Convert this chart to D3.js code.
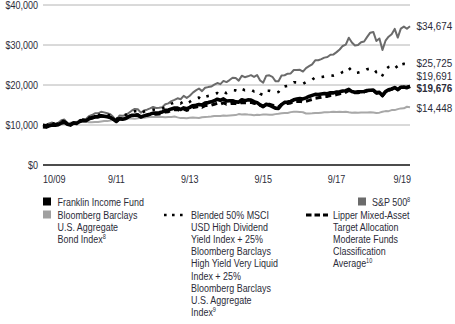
<!DOCTYPE html>
<html>
<head>
<meta charset="utf-8">
<script src="https://cdn.jsdelivr.net/npm/d3@7"></script>
<style>
  html, body { margin: 0; padding: 0; background: #fff; }
  svg { display: block; }
  text { font-family: "Liberation Sans", Arial, sans-serif; fill: #2b2b38; }
</style>
</head>
<body>
<div id="chart"></div>
<script>
// Growth of $10,000, month-end values from 10/09 through 9/19 (121 points).

const tickMonths = [0, 24, 48, 72, 96, 120];
const tickLabels = ["10/09", "9/11", "9/13", "9/15", "9/17", "9/19"];
const yTicks = [0, 10000, 20000, 30000, 40000];

const franklin = [
  9575, 9480, 9790, 10020, 9920, 10090, 10510, 10700, 10180, 9980, 10480, 10430,
  10890, 11150, 11050, 11520, 11800, 12050, 12020, 12330, 12200, 12060, 11900, 11420,
  10880, 11560, 11420, 11620, 12090, 12400, 12430, 12460, 12010, 12280, 12520, 12720,
  12980, 12960, 13050, 13240, 13660, 13750, 14020, 14250, 14220, 13880, 14280, 14060,
  14420, 14830, 14930, 15110, 14990, 15480, 15600, 15790, 16050, 16450, 16180, 16520,
  16020, 16080, 16050, 15780, 15720, 16300, 16070, 16280, 16240, 15830, 15600, 15020,
  14580, 15190, 14960, 14580, 14200, 14160, 15080, 15650, 15730, 15900, 16300, 16480,
  16600, 16520, 16780, 17130, 17400, 17650, 17600, 17750, 17880, 17800, 18050, 18030,
  18230, 18300, 18480, 18560, 18900, 18350, 18200, 18330, 18300, 18380, 18620, 18680,
  18720, 18100, 18150, 17380, 18350, 18800, 19000, 19350, 18850, 19450, 19520, 19320,
  19676
];

const sp500 = [
  10000, 9814, 10403, 10604, 10222, 10539, 11174, 11351, 10444, 9898, 10592, 10114,
  11016, 11435, 11436, 12200, 12489, 12917, 12922, 13305, 13154, 12934, 12672, 11984,
  11141, 12359, 12332, 12457, 13015, 13577, 14024, 13936, 13098, 13637, 13827, 14138,
  14503, 14235, 14318, 14448, 15196, 15403, 15981, 16289, 16670, 16447, 17284, 16783,
  17310, 18106, 18658, 19130, 18468, 19312, 19474, 19618, 20079, 20495, 20212, 21020,
  20726, 21232, 21803, 21748, 21096, 22309, 21956, 22167, 22453, 22017, 22480, 21124,
  20602, 22341, 22408, 22054, 20960, 20933, 22352, 22439, 22843, 22902, 23747, 23781,
  23786, 23353, 24217, 24697, 25166, 26165, 26196, 26466, 26839, 27006, 27562, 27647,
  28217, 28874, 29760, 30091, 31815, 30641, 29863, 29976, 30699, 30889, 32038, 33083,
  33271, 30996, 31628, 28772, 31077, 32074, 32697, 34021, 31861, 34107, 34598, 34051,
  34674
];

const aggBond = [
  10000, 10050, 10180, 10020, 10170, 10210, 10200, 10310, 10400, 10560, 10670, 10810,
  10820, 10860, 10800, 10680, 10690, 10720, 10730, 10860, 11000, 10970, 11140, 11310,
  11390, 11400, 11390, 11520, 11620, 11610, 11550, 11680, 11790, 11800, 11960, 11970,
  11990, 12010, 12030, 12010, 11930, 11990, 12000, 12120, 11910, 11720, 11740, 11680,
  11790, 11880, 11840, 11770, 11940, 12010, 12050, 12140, 12270, 12280, 12240, 12380,
  12300, 12380, 12460, 12470, 12730, 12610, 12670, 12620, 12590, 12460, 12550, 12530,
  12620, 12620, 12590, 12550, 12720, 12820, 12940, 12980, 12990, 13220, 13310, 13290,
  13280, 13180, 12870, 12890, 12910, 12990, 12990, 13090, 13190, 13180, 13230, 13340,
  13280, 13290, 13270, 13330, 13180, 13050, 13140, 13040, 13130, 13130, 13130, 13210,
  13120, 13020, 13090, 13330, 13470, 13460, 13720, 13730, 13970, 14150, 14180, 14560,
  14448
];

const blended = [
  10000, 9850, 10250, 10450, 10250, 10450, 10900, 11050, 10450, 10150, 10750, 10550,
  11100, 11400, 11350, 11800, 12050, 12400, 12450, 12750, 12700, 12550, 12350, 12000,
  11400, 12300, 12350, 12550, 12900, 13250, 13450, 13450, 12900, 13350, 13600, 13700,
  13850, 13800, 13900, 14050, 14650, 14850, 15350, 15650, 15650, 15400, 15900, 15400,
  15800, 16350, 16600, 16850, 16400, 17000, 17250, 17400, 17700, 18000, 17700, 18250,
  17950, 18350, 18700, 18650, 18350, 19000, 18700, 18850, 18850, 18400, 18700, 17800,
  17500, 18550, 18550, 18300, 18050, 18250, 19400, 19650, 19800, 20300, 20700, 20650,
  20550, 20300, 20750, 21100, 21300, 21900, 21850, 22000, 22100, 22150, 22400, 22350,
  22550, 22750, 23250, 23500, 24300, 23400, 23000, 23100, 23300, 23500, 23950, 24100,
  24150, 23200, 23600, 22400, 23900, 24500, 24700, 25100, 24100, 25100, 25300, 25200,
  25725
];

const lipper = [
  10000, 9870, 10230, 10380, 10150, 10330, 10700, 10850, 10350, 10080, 10550, 10350,
  10900, 11180, 11150, 11550, 11720, 11950, 11980, 12250, 12130, 11960, 11870, 11420,
  10900, 11620, 11550, 11620, 12080, 12400, 12560, 12560, 12030, 12300, 12450, 12620,
  12740, 12660, 12730, 12850, 13270, 13340, 13600, 13830, 13880, 13560, 13950, 13640,
  14000, 14380, 14520, 14680, 14440, 14850, 14880, 14950, 15200, 15420, 15230, 15550,
  15200, 15330, 15460, 15350, 15220, 15650, 15560, 15620, 15650, 15400, 15480, 14950,
  14700, 15250, 15200, 14980, 14550, 14500, 15150, 15300, 15400, 15500, 15850, 15900,
  15950, 15750, 15950, 16150, 16400, 16700, 16800, 16950, 17100, 17150, 17380, 17420,
  17600, 17800, 18050, 18200, 18650, 18250, 18050, 18070, 18250, 18280, 18550, 18700,
  18700, 17950, 18150, 17300, 18300, 18700, 18950, 19350, 18800, 19400, 19520, 19450,
  19691
];

// end-of-period value labels; a few are nudged so they don't collide
const endLabels = [
  { text: "$34,674", value: 34674, dy: 0, bold: false },
  { text: "$25,725", value: 25725, dy: 0.5, bold: false },
  { text: "$19,691", value: 19691, dy: -10.5, bold: false },
  { text: "$19,676", value: 19676, dy: 2, bold: true },
  { text: "$14,448", value: 14448, dy: 1, bold: false }
];

const W = 455, H = 324;
const plot = { left: 43, right: 410, top: 5, bottom: 165 };
const SQ = 0.86; // horizontal squeeze applied to all text

const svg = d3.select("#chart").append("svg")
  .attr("width", W).attr("height", H).attr("viewBox", `0 0 ${W} ${H}`);

const x = d3.scaleLinear().domain([0, 120]).range([plot.left, plot.right]);
const y = d3.scaleLinear().domain([0, 40000]).range([plot.bottom, plot.top]);

// narrow text: a group at (tx, ty) scaled horizontally
function label(parent, tx, ty) {
  return parent.append("g")
    .attr("transform", `translate(${tx},${ty}) scale(${SQ},1)`)
    .append("text");
}

// gridlines + y labels
svg.append("g")
  .selectAll("line")
  .data(yTicks.filter((d) => d > 0))
  .join("line")
  .attr("x1", plot.left).attr("x2", plot.right)
  .attr("y1", (d) => y(d)).attr("y2", (d) => y(d))
  .attr("stroke", "#b4b4b4").attr("stroke-width", 1);

svg.append("line")
  .attr("x1", plot.left).attr("x2", plot.right)
  .attr("y1", y(0)).attr("y2", y(0))
  .attr("stroke", "#111").attr("stroke-width", 1.4);

const yAxis = svg.append("g");
yTicks.forEach((d) => {
  label(yAxis, 38, y(d))
    .attr("dy", "0.35em")
    .attr("text-anchor", "end")
    .attr("font-size", 10.5)
    .text(d3.format("$,")(d));
});

const xAxis = svg.append("g");
tickMonths.forEach((d, i) => {
  label(xAxis, x(d) + (i === tickMonths.length - 1 ? 1 : 0), 183)
    .attr("text-anchor", i === 0 ? "start" : i === tickMonths.length - 1 ? "end" : "middle")
    .attr("font-size", 10.5)
    .text(tickLabels[i]);
});

const line = d3.line().x((d, i) => x(i)).y((d) => y(d));

const series = [
  { data: aggBond, stroke: "#a8a8a8", width: 2 },
  { data: sp500, stroke: "#6b6b6b", width: 2 },
  { data: blended, stroke: "#000", width: 2.6, dash: "2.6 7.4" },
  { data: lipper, stroke: "#000", width: 3, dash: "6 4" },
  { data: franklin, stroke: "#000", width: 3.6 }
];

svg.append("g")
  .selectAll("path")
  .data(series)
  .join("path")
  .attr("d", (d) => line(d.data))
  .attr("fill", "none")
  .attr("stroke", (d) => d.stroke)
  .attr("stroke-width", (d) => d.width)
  .attr("stroke-dasharray", (d) => d.dash || null)
  .attr("stroke-linejoin", "round");

const ends = svg.append("g");
endLabels.forEach((d) => {
  label(ends, 416.5, y(d.value) + d.dy)
    .attr("dy", "0.35em")
    .attr("font-size", 11.5)
    .attr("font-weight", d.bold ? "bold" : null)
    .text(d.text);
});

// legend
const lg = svg.append("g");
const lineH = 12.25;

function block(xText, yTop, lines, sup) {
  const t = label(lg, xText, yTop).attr("font-size", 10.4);
  lines.forEach((s, i) => {
    t.append("tspan").attr("x", 0).attr("y", i * lineH).text(s);
    if (sup && i === lines.length - 1) {
      t.append("tspan").attr("font-size", 6.5).attr("dy", -4).text(sup);
    }
  });
}

lg.append("rect").attr("x", 43).attr("y", 197.5).attr("width", 8).attr("height", 8).attr("fill", "#000");
block(57.5, 205.5, ["Franklin Income Fund"]);

lg.append("rect").attr("x", 43).attr("y", 210.5).attr("width", 8).attr("height", 8).attr("fill", "#a0a0a0");
block(57.5, 218.5, ["Bloomberg Barclays", "U.S. Aggregate", "Bond Index"], "8");

lg.append("line").attr("x1", 164).attr("x2", 184).attr("y1", 215).attr("y2", 215)
  .attr("stroke", "#000").attr("stroke-width", 2.6).attr("stroke-dasharray", "2.6 5.4");
block(191, 218.5, ["Blended 50% MSCI", "USD High Dividend", "Yield Index + 25%",
  "Bloomberg Barclays", "High Yield Very Liquid", "Index + 25%",
  "Bloomberg Barclays", "U.S. Aggregate", "Index"], "9");

lg.append("line").attr("x1", 306).attr("x2", 328).attr("y1", 215).attr("y2", 215)
  .attr("stroke", "#000").attr("stroke-width", 3).attr("stroke-dasharray", "5.5 3");
block(333, 218.5, ["Lipper Mixed-Asset", "Target Allocation", "Moderate Funds",
  "Classification", "Average"], "10");

lg.append("rect").attr("x", 358).attr("y", 197.5).attr("width", 8).attr("height", 8).attr("fill", "#6b6b6b");
block(372, 205.5, ["S&P 500"], "8");
</script>
</body>
</html>
